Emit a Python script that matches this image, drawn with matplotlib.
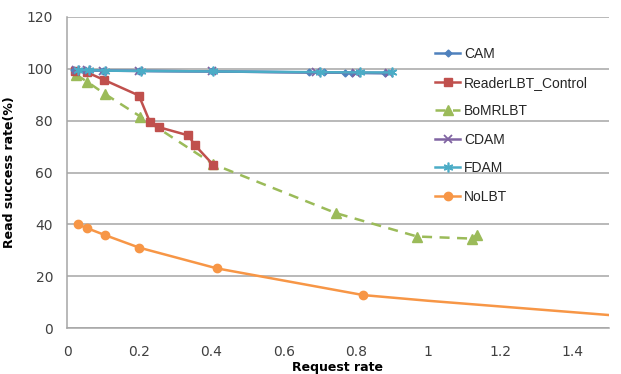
import numpy as np
import matplotlib
matplotlib.use("Agg")
import matplotlib.pyplot as plt

# Data
cam_x = [0.02, 0.05, 0.10, 0.20, 0.40, 0.67, 0.71, 0.77, 0.79, 0.88]
cam_y = [99.5, 99.5, 99.3, 99.2, 99.0, 98.6, 98.6, 98.5, 98.4, 98.3]

reader_x = [0.021, 0.056, 0.103, 0.199, 0.23, 0.254, 0.336, 0.353, 0.405]
reader_y = [99.3, 98.6, 95.7, 89.7, 79.3, 77.5, 74.3, 70.7, 62.9]

bomr_x = [0.026, 0.056, 0.106, 0.203, 0.405, 0.745, 0.969, 1.12, 1.135]
bomr_y = [97.7, 95.0, 90.2, 81.6, 63.2, 44.3, 35.3, 34.5, 36.0]

cdam_x = [0.025, 0.055, 0.10, 0.20, 0.40, 0.69, 0.80, 0.89]
cdam_y = [99.6, 99.5, 99.3, 99.2, 99.0, 98.6, 98.5, 98.4]

fdam_x = [0.03, 0.06, 0.105, 0.205, 0.405, 0.70, 0.81, 0.90]
fdam_y = [99.6, 99.5, 99.3, 99.2, 99.0, 98.7, 98.6, 98.6]

# NoLBT: measured points (with markers) plus curve tail without markers
nolbt_x = [0.03, 0.056, 0.106, 0.20, 0.415, 0.82, 1.0, 1.2, 1.5]
nolbt_y = [40.0, 38.5, 35.8, 31.0, 23.0, 12.7, 10.5, 8.3, 5.0]
nolbt_marked = 6

plt.rcParams.update({'font.family': 'DejaVu Sans', 'font.size': 10})
fig = plt.figure(figsize=(6.21, 3.74), dpi=100)
ax = fig.add_axes([67 / 621, 1 - 328 / 374, 542 / 621, 311 / 374])

lw = 1.8
ax.plot(cam_x, cam_y, color='#4F81BD', lw=lw, marker='D', ms=3.5, label='CAM', zorder=5)
ax.plot(reader_x, reader_y, color='#C0504D', lw=lw, marker='s', ms=6, label='ReaderLBT_Control', zorder=4)
ax.plot(bomr_x, bomr_y, color='#9BBB59', lw=lw, ls=(0, (4, 3)), marker='^', ms=6.5, label='BoMRLBT', zorder=3)
ax.plot(cdam_x, cdam_y, color='#8064A2', lw=lw, marker='x', ms=6, mew=1.3, label='CDAM', zorder=5)
ax.plot(fdam_x, fdam_y, color='#4BACC6', lw=lw, marker=(6, 2, 0), ms=7, mew=1.2, label='FDAM', zorder=6)
ax.plot(nolbt_x, nolbt_y, color='#F79646', lw=lw, marker='o', ms=6,
        markevery=list(range(nolbt_marked)), label='NoLBT', zorder=3)

ax.set_xlim(0, 1.5)
ax.set_ylim(0, 120)
ax.set_xticks(np.arange(0, 1.6, 0.2))
ax.set_xticklabels(['0', '0.2', '0.4', '0.6', '0.8', '1', '1.2', '1.4'])
ax.set_yticks(np.arange(0, 121, 20))
ax.grid(axis='y', color='#A6A6A6', lw=1.1)
ax.set_axisbelow(True)
for s in ['top', 'right']:
    ax.spines[s].set_visible(False)
for s in ['left', 'bottom']:
    ax.spines[s].set_color('#A6A6A6')
    ax.spines[s].set_linewidth(1.1)
ax.tick_params(length=0, colors='#404040', labelsize=10)
ax.tick_params(axis='x', pad=12)
ax.tick_params(axis='y', pad=10)

ax.set_xlabel('Request rate', fontsize=9, fontweight='bold', labelpad=2)
ax.set_ylabel('Read success rate(%)', fontsize=9, fontweight='bold', labelpad=8)

leg = ax.legend(loc='upper left', bbox_to_anchor=((435 - 67) / 542, (311 - 30) / 311),
                frameon=False, prop={'family': 'Liberation Sans', 'size': 10},
                handlelength=1.8, handletextpad=0.3,
                labelspacing=1.05, borderaxespad=0, borderpad=0)
for t in leg.get_texts():
    t.set_color('#262626')

fig.savefig('out.png', dpi=100)
